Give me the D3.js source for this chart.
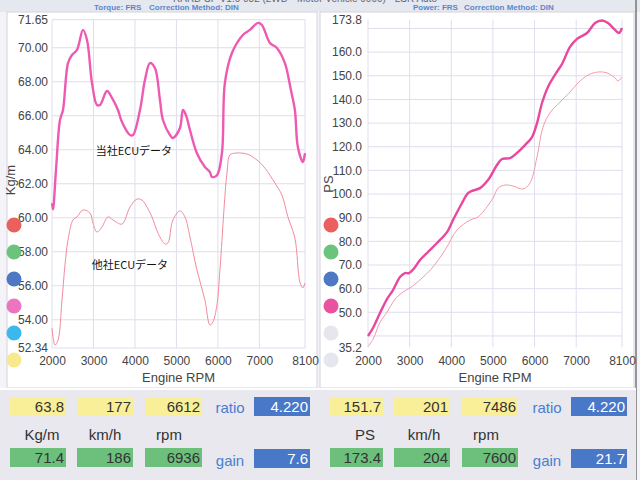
<!DOCTYPE html>
<html>
<head>
<meta charset="utf-8">
<script src="https://cdn.jsdelivr.net/npm/d3@7"></script>
<style>
  body { margin: 0; background: #fff; }
  svg { display: block; font-family: "Liberation Sans", Arial, sans-serif; }
</style>
</head>
<body>
<svg id="chart" width="640" height="480"></svg>
<script>
// rpm axis shared by both charts
var rpmTicks = [2000, 3000, 4000, 5000, 6000, 7000, 8100];

// torque chart (Kg/m)
var torqueTicks = [52.34, 54, 56, 58, 60, 62, 64, 66, 68, 70, 71.65];
var torqueOurs = [[2000, 60.86], [2024, 60.5], [2096, 62.8], [2193, 65.75], [2265, 66.34], [2386, 69.1],
  [2482, 69.57], [2603, 69.87], [2747, 71.05], [2844, 70.46], [2964, 67.93], [3085, 66.63], [3157, 66.63],
  [3326, 67.46], [3446, 67.05], [3591, 66.34], [3687, 65.63], [3880, 64.87], [3952, 64.87], [4121, 66.34],
  [4241, 68.1], [4362, 69.1], [4482, 68.81], [4603, 66.93], [4675, 65.75], [4844, 64.87], [4916, 64.69],
  [5085, 65.28], [5157, 66.34], [5229, 66.04], [5326, 65.16], [5494, 63.8], [5687, 62.99], [5808, 62.69],
  [5856, 62.4], [5977, 62.5], [6097, 63.8], [6169, 67.93], [6338, 69.69], [6603, 70.75], [6772, 71.05],
  [6965, 71.46], [7061, 71.34], [7254, 70.28], [7422, 69.99], [7615, 69.1], [7760, 67.51], [7856, 66.34],
  [7928, 64.16], [8049, 63.28], [8100, 63.8]];
var torqueOther = [[2000, 53.51], [2072, 52.51], [2145, 52.8], [2241, 55.16], [2313, 57.22], [2386, 58.69],
  [2506, 59.87], [2603, 60.05], [2747, 60.46], [2916, 60.28], [2988, 59.69], [3085, 59.16], [3205, 59.46],
  [3350, 60.05], [3470, 59.87], [3687, 59.63], [3880, 60.63], [4048, 61.1], [4169, 61.04], [4290, 60.63],
  [4410, 60.05], [4555, 59.1], [4723, 58.46], [4796, 58.52], [4916, 59.87], [5085, 60.4], [5205, 60.05],
  [5326, 58.87], [5494, 56.93], [5687, 55.16], [5808, 53.69], [5880, 53.87], [5977, 54.87], [6049, 56.93],
  [6218, 62.63], [6290, 63.69], [6411, 63.8], [6700, 63.75], [6941, 63.4], [7134, 62.92], [7375, 62.04],
  [7543, 61.34], [7688, 60.05], [7856, 58.81], [7977, 56.22], [8049, 55.87], [8100, 56.16]];

// power chart (PS)
var powerTicks = [35.2, 50, 60, 70, 80, 90, 100, 110, 120, 130, 140, 150, 160, 173.8];
var powerGrid = [40, 50, 60, 70, 80, 90, 100, 110, 120, 130, 140, 150, 160, 170];
var powerOurs = [[2000, 39.97], [2120, 43.35], [2288, 49.7], [2456, 55.6], [2601, 59.4], [2769, 64.9],
  [2889, 66.6], [2985, 66.6], [3129, 69.1], [3249, 72.1], [3441, 75.5], [3657, 79.3], [3898, 83.9],
  [4042, 89.0], [4258, 96.2], [4402, 100.4], [4498, 101.3], [4690, 102.5], [4882, 105.9], [5098, 112.3],
  [5218, 114.8], [5410, 115.2], [5579, 117.4], [5771, 120.7], [5939, 124.1], [6059, 130.0], [6179, 138.5],
  [6323, 145.3], [6563, 152.4], [6660, 155.0], [6852, 162.2], [7020, 165.6], [7260, 168.1], [7453, 172.3],
  [7620, 173.4], [7764, 172.3], [7932, 169.4], [8028, 168.1], [8100, 170.2]];
var powerOther = [[2000, 35.5], [2120, 38.6], [2288, 45.7], [2456, 50.1], [2649, 55.5], [2841, 58.6],
  [3009, 60.3], [3249, 63.7], [3537, 68.7], [3850, 76.3], [4138, 84.8], [4450, 89.0], [4642, 90.3],
  [5003, 98.3], [5123, 102.5], [5291, 103.8], [5483, 103.4], [5723, 102.1], [5891, 104.7], [6059, 115.7],
  [6203, 128.3], [6371, 134.3], [6612, 138.9], [6852, 143.1], [7044, 147.0], [7284, 150.3], [7525, 151.6],
  [7741, 151.2], [7932, 149.1], [8004, 147.8], [8100, 149.5]];

// legend dots
var torqueDots = ["#ec5f5f", "#6cc47c", "#4c78c4", "#ec74c0", "#3cb9ec", "#f7e98c"];
var powerDots = ["#ec5f5f", "#6cc47c", "#4c78c4", "#e8529f", "#e6e6ee", "#e6e6ee"];

// info boxes
var infoUnitsT = ["Kg/m", "km/h", "rpm"];
var infoOtherT = ["63.8", "177", "6612"];
var infoOursT = ["71.4", "186", "6936"];
var ratioT = "4.220", gainT = "7.6";
var infoUnitsP = ["PS", "km/h", "rpm"];
var infoOtherP = ["151.7", "201", "7486"];
var infoOursP = ["173.4", "204", "7600"];
var ratioP = "4.220", gainP = "21.7";

var svg = d3.select("#chart");

// background pieces
svg.append("rect").attr("x", 0).attr("y", 0).attr("width", 640).attr("height", 480).attr("fill", "#f4f4f8");
svg.append("rect").attr("x", 0).attr("y", 0).attr("width", 640).attr("height", 12).attr("fill", "#e6e8f0");
// run title, cut by the top edge as on the scan
svg.append("text").attr("x", 305).attr("y", 2).attr("text-anchor", "middle")
  .attr("font-size", 10).attr("fill", "#666")
  .text("RARD SF V1.0 082 (2WD - Motor Vehicle 0000) - LSR Auto");

function panel(x0, w, title1, title2, t1x, t2x) {
  svg.append("rect").attr("x", x0).attr("y", 12).attr("width", w).attr("height", 376)
    .attr("fill", "#fff").attr("stroke", "#d4d4dc");
  svg.append("text").attr("x", t1x).attr("y", 10).attr("font-size", 8).attr("font-weight", "bold")
    .attr("fill", "#5a86cc").text(title1);
  svg.append("text").attr("x", t2x).attr("y", 10).attr("font-size", 8).attr("font-weight", "bold")
    .attr("fill", "#5a86cc").text(title2);
}
panel(7, 310, "Torque: FRS", "Correction Method: DIN", 94, 149);
panel(320, 314, "Power: FRS", "Correction Method: DIN", 413, 464);
svg.append("line").attr("x1", 636).attr("x2", 636).attr("y1", 0).attr("y2", 480)
  .attr("stroke", "#777").attr("stroke-width", 1.5);

function drawChart(opt) {
  var x = d3.scaleLinear().domain([2000, 8100]).range(opt.xr);
  var y = d3.scaleLinear().domain(opt.yd).range(opt.yr);
  var g = svg.append("g");

  // grid
  g.selectAll(".hg").data(opt.grid).enter().append("line")
    .attr("x1", opt.xr[0]).attr("x2", opt.xr[1])
    .attr("y1", d => y(d)).attr("y2", d => y(d))
    .attr("stroke", "#dedeee").attr("stroke-width", 1);
  g.selectAll(".vg").data(rpmTicks).enter().append("line")
    .attr("x1", d => x(d)).attr("x2", d => x(d))
    .attr("y1", opt.yr[1]).attr("y2", opt.yr[0])
    .attr("stroke", "#dedeee").attr("stroke-width", 1);

  // axes
  var ya = g.append("g").attr("transform", "translate(" + opt.labelX + ",0)")
    .call(d3.axisLeft(y).tickValues(opt.ticks).tickSize(0).tickPadding(0).tickFormat(opt.fmt));
  ya.select(".domain").remove();
  ya.selectAll("text").attr("font-size", 12).attr("fill", "#444")
    .attr("font-family", "'Liberation Sans', Arial, sans-serif");

  var xa = g.append("g").attr("transform", "translate(0," + 356 + ")")
    .call(d3.axisBottom(x).tickValues(rpmTicks).tickSize(0).tickPadding(0).tickFormat(d3.format("d")));
  xa.select(".domain").remove();
  xa.selectAll("text").attr("font-size", 12).attr("fill", "#444")
    .attr("font-family", "'Liberation Sans', Arial, sans-serif");

  g.append("text").attr("x", (opt.xr[0] + opt.xr[1]) / 2).attr("y", 382).attr("text-anchor", "middle")
    .attr("font-size", 13).attr("fill", "#444").text("Engine RPM");
  g.append("text").attr("transform", "translate(" + opt.titleX + "," + opt.titleY + ") rotate(-90)")
    .attr("text-anchor", "middle").attr("font-size", 13).attr("fill", "#444").text(opt.unit);

  // dots
  g.selectAll(".dot").data(opt.dots).enter().append("circle")
    .attr("cx", opt.dotX).attr("cy", (d, i) => 225 + i * 27).attr("r", 7.5)
    .attr("fill", d => d);

  var line = d3.line().x(d => x(d[0])).y(d => y(d[1])).curve(d3.curveCatmullRom.alpha(0.5));
  g.append("path").datum(opt.other).attr("d", line).attr("fill", "none")
    .attr("stroke", opt.otherColor).attr("stroke-width", 1);
  g.append("path").datum(opt.ours).attr("d", line).attr("fill", "none")
    .attr("stroke", opt.oursColor).attr("stroke-width", 2.4);
}

drawChart({
  xr: [52, 305], yd: [52.34, 71.65], yr: [348, 19.7],
  grid: torqueTicks, ticks: torqueTicks, fmt: d3.format(".2f"), labelX: 48,
  unit: "Kg/m", titleX: 15, titleY: 180, dots: torqueDots, dotX: 14,
  ours: torqueOurs, other: torqueOther, oursColor: "#ee5ab2", otherColor: "#f28c9c"
});
drawChart({
  xr: [368, 622], yd: [35.2, 173.8], yr: [347.3, 19.5],
  grid: powerGrid, ticks: powerTicks, fmt: d3.format(".1f"), labelX: 362,
  unit: "PS", titleX: 333, titleY: 184, dots: powerDots, dotX: 331,
  ours: powerOurs, other: powerOther, oursColor: "#e8489e", otherColor: "#f59aaa"
});

// Japanese notes
svg.append("text").attr("x", 134).attr("y", 155).attr("text-anchor", "middle")
  .attr("font-size", 11).attr("fill", "#111").attr("font-family", "'Noto Sans CJK JP', sans-serif")
  .text("当社ECUデータ");
svg.append("text").attr("x", 130).attr("y", 269).attr("text-anchor", "middle")
  .attr("font-size", 11).attr("fill", "#111").attr("font-family", "'Noto Sans CJK JP', sans-serif")
  .text("他社ECUデータ");

// info area
svg.append("rect").attr("x", 0).attr("y", 389).attr("width", 636).attr("height", 91).attr("fill", "#e8e8ee");
svg.append("line").attr("x1", 0).attr("x2", 636).attr("y1", 389).attr("y2", 389).attr("stroke", "#fff").attr("stroke-width", 2);

function info(x0, boxes, units, other, ours, ratio, gain) {
  var g = svg.append("g");
  boxes.forEach(function (b, i) {
    g.append("rect").attr("x", x0 + b[0]).attr("y", 397).attr("width", b[1]).attr("height", 19).attr("fill", "#f9ef98");
    g.append("text").attr("x", x0 + b[0] + b[1] - 2).attr("y", 412).attr("text-anchor", "end")
      .attr("font-size", 15).attr("fill", "#333").text(other[i]);
    g.append("rect").attr("x", x0 + b[0]).attr("y", 448).attr("width", b[1]).attr("height", 19).attr("fill", "#6cc07c");
    g.append("text").attr("x", x0 + b[0] + b[1] - 2).attr("y", 463).attr("text-anchor", "end")
      .attr("font-size", 15).attr("fill", "#333").text(ours[i]);
    g.append("text").attr("x", x0 + b[0] + b[2]).attr("y", 440).attr("text-anchor", "middle")
      .attr("font-size", 15).attr("fill", "#333").text(units[i]);
  });
  g.append("text").attr("x", x0 + 230).attr("y", 413).attr("text-anchor", "middle")
    .attr("font-size", 15).attr("fill", "#4a7ed0").text("ratio");
  g.append("text").attr("x", x0 + 230).attr("y", 466).attr("text-anchor", "middle")
    .attr("font-size", 15).attr("fill", "#4a7ed0").text("gain");
  g.append("rect").attr("x", x0 + 254).attr("y", 397).attr("width", 56).attr("height", 19).attr("fill", "#4a78c8");
  g.append("text").attr("x", x0 + 308).attr("y", 412).attr("text-anchor", "end")
    .attr("font-size", 15).attr("fill", "#fff").text(ratio);
  g.append("rect").attr("x", x0 + 254).attr("y", 449).attr("width", 56).attr("height", 19).attr("fill", "#4a78c8");
  g.append("text").attr("x", x0 + 308).attr("y", 464).attr("text-anchor", "end")
    .attr("font-size", 15).attr("fill", "#fff").text(gain);
}
info(0, [[10, 56, 32], [77, 56, 28], [145, 57, 24]], infoUnitsT, infoOtherT, infoOursT, ratioT, gainT);
info(317, [[13, 53, 35], [77, 56, 30], [145, 56, 24]], infoUnitsP, infoOtherP, infoOursP, ratioP, gainP);
</script>
</body>
</html>
